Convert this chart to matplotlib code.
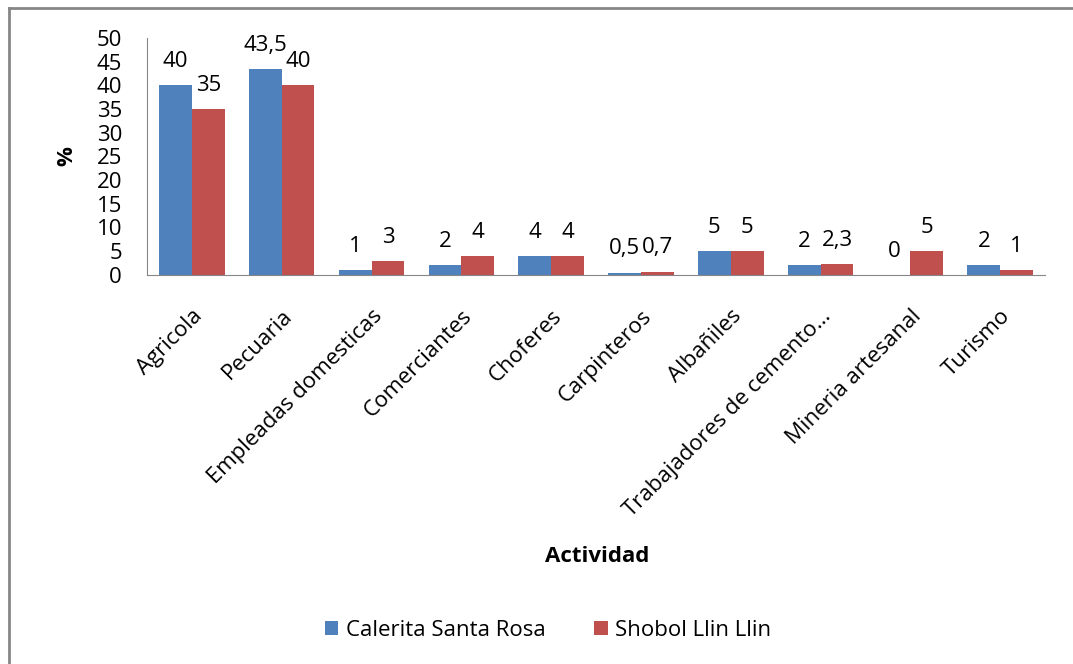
import matplotlib

matplotlib.use("Agg")
import matplotlib.pyplot as plt
import numpy as np
from matplotlib.lines import Line2D

categories = ["Agricola", "Pecuaria", "Empleadas domesticas", "Comerciantes", "Choferes",
              "Carpinteros", "Albañiles", "Trabajadores de cemento…", "Mineria artesanal", "Turismo"]
calerita = [40, 43.5, 1, 2, 4, 0.5, 5, 2, 0, 2]
shobol = [35, 40, 3, 4, 4, 0.7, 5, 2.3, 5, 1]
series_names = ["Calerita Santa Rosa", "Shobol Llin Llin"]
colors = ["#4f81bd", "#c0504d"]
yticks = list(range(0, 51, 5))

plt.rcParams["font.family"] = ["Open Sans", "DejaVu Sans"]
FS = 16


def fmt(v):
    return f"{v:g}".replace(".", ",")


fig = plt.figure(figsize=(10.73, 6.64), dpi=100)
ax = fig.add_axes([0.137, 0.586, 0.837, 0.357])

x = np.arange(len(categories))
w = 0.365
for i, (vals, name, c) in enumerate(zip([calerita, shobol], series_names, colors)):
    pos = x + (i - 0.5) * w
    ax.bar(pos, vals, width=w, color=c, label=name)
    for p, v in zip(pos, vals):
        ax.annotate(fmt(v), (p, v), xytext=(0, 17), textcoords="offset points",
                    ha="center", va="center", fontsize=FS)

ax.set_xlim(-0.5, len(categories) - 0.5)
ax.set_ylim(0, 50)
ax.set_yticks(yticks)
ax.tick_params(axis="y", length=0, labelsize=FS, pad=18)
ax.tick_params(axis="x", length=0, labelsize=FS, pad=22)
ax.set_xticks(x)
ax.set_xticklabels(categories, rotation=45, ha="right", rotation_mode="anchor")
for side in ["top", "right"]:
    ax.spines[side].set_visible(False)
for side in ["left", "bottom"]:
    ax.spines[side].set_color("#868686")
ax.set_ylabel("%", fontsize=FS, fontweight="bold", labelpad=14)
fig.text(597 / 1073, 1 - 557 / 664, "Actividad", ha="center", va="center",
         fontsize=FS, fontweight="bold")

fig.legend(loc="center", bbox_to_anchor=(548 / 1073, 1 - 630 / 664), ncol=2, frameon=False,
           fontsize=FS, handlelength=0.6, handleheight=0.6, columnspacing=2.2,
           handletextpad=0.35)

# outer chart border (only top and left edges fall inside the image)
fig.add_artist(Line2D([9 / 1073, 9 / 1073], [0, 1 - 8 / 664], transform=fig.transFigure,
                      color="#868686", linewidth=2))
fig.add_artist(Line2D([9 / 1073, 1], [1 - 8 / 664, 1 - 8 / 664], transform=fig.transFigure,
                      color="#868686", linewidth=2))

fig.savefig("out.png", dpi=100)
